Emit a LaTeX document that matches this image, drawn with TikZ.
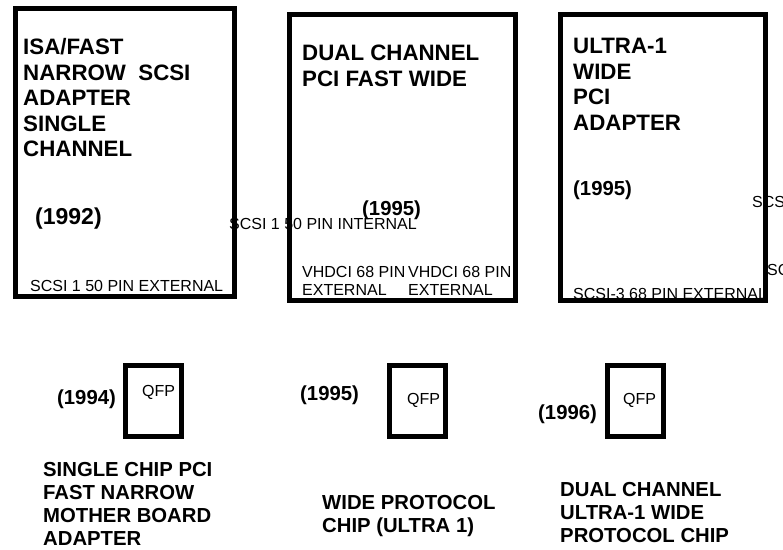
\documentclass[tikz,border=0pt]{standalone}
\usepackage{fontspec}
\setmainfont{Liberation Sans}
\usepackage{xcolor}
\definecolor{ink}{RGB}{0,0,0}
\usepackage{tikz}
\usetikzlibrary{positioning}
\tikzset{
  %% outlines
  board/.style={draw=ink, line width=5pt, inner sep=0pt},
  chip/.style={board, minimum width=56pt, minimum height=71pt},
  %% texts
  title/.style={font=\fontsize{22.3}{25.5}\selectfont\bfseries, align=left,
                anchor=north west, inner sep=0pt, text=ink},
  caption/.style={font=\fontsize{20.3}{23}\selectfont\bfseries, align=left,
                  anchor=north west, inner sep=0pt, text=ink},
  year/.style={font=\fontsize{20.3}{24}\selectfont\bfseries, anchor=west,
               inner sep=0pt, text=ink},
  pin/.style={font=\fontsize{16}{18}\selectfont, align=left, anchor=west,
              inner sep=0pt, text=ink},
}

\begin{document}
\begin{tikzpicture}[x=1pt,y=-1pt]
\useasboundingbox (0,0) rectangle (783,549);
\clip (0,0) rectangle (783,549);

%% adapter cards
\node[title] (isaT) at (23,38.3) {ISA/FAST\\NARROW\ \ SCSI\\ADAPTER\\SINGLE\\CHANNEL};
\node[year, font=\fontsize{23}{26}\selectfont\bfseries] (isaY) at (35,219) {(1992)};
\node[pin] (isaE) at (30,286) {SCSI 1 50 PIN EXTERNAL};
\node[pin] (isaI) at (229,223.5) {SCSI 1 50 PIN INTERNAL};

\node[title] (dualT) at (302,45) {DUAL CHANNEL\\PCI FAST WIDE};
\node[year] (dualY) at (362,210) {(1995)};
\node[pin] (dualA) at (302,281) {VHDCI 68 PIN\\EXTERNAL};
\node[pin] (dualB) at (408,281) {VHDCI 68 PIN\\EXTERNAL};

\node[title] (ultraT) at (573,38) {ULTRA-1\\WIDE\\PCI\\ADAPTER};
\node[year] (ultraY) at (573,190) {(1995)};
\node[pin] (ultraE) at (573,294) {SCSI-3 68 PIN EXTERNAL};
\node[pin] (ultraI) at (752,202) {SCS};
\node[pin] (ultraJ) at (767,270) {SC};

\node[board, minimum width=219pt, minimum height=287.5pt] (isa) at (125,152.25) {};
\node[board, minimum width=226pt, minimum height=286pt] (dual) at (402.5,157) {};
\node[board, minimum width=205pt, minimum height=286pt] (ultra) at (663,157) {};

%% chips
\node[chip] (chipA) at (153.5,401) {};
\node[chip] (chipB) at (417.5,401) {};
\node[chip] (chipC) at (635.5,401) {};
\node[pin] (qfpA) at (142,392) {QFP};
\node[pin] (qfpB) at (407,400) {QFP};
\node[pin] (qfpC) at (623,400) {QFP};
\node[year] (chipAY) at (57,399.5) {(1994)};
\node[year] (chipBY) at (300,395) {(1995)};
\node[year] (chipCY) at (538,414) {(1996)};

\node[caption] (chipAT) at (43,462) {SINGLE CHIP PCI\\FAST NARROW\\MOTHER BOARD\\ADAPTER};
\node[caption] (chipBT) at (322,495) {WIDE PROTOCOL\\CHIP (ULTRA 1)};
\node[caption] (chipCT) at (560,482) {DUAL CHANNEL\\ULTRA-1 WIDE\\PROTOCOL CHIP};
\end{tikzpicture}
\end{document}
